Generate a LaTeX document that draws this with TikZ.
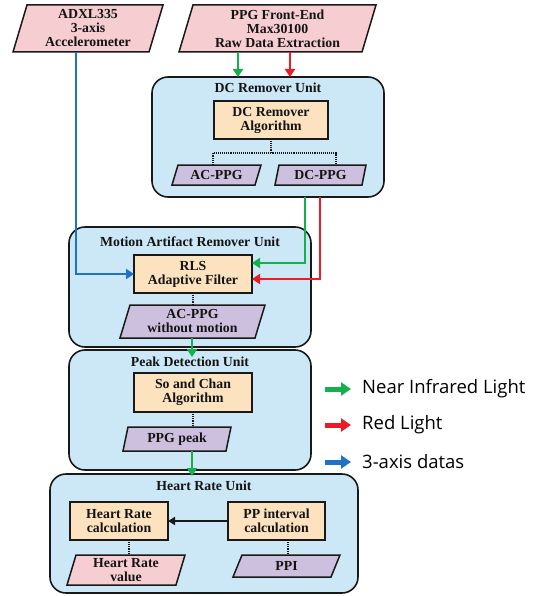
\documentclass[tikz,border=0pt]{standalone}
\usepackage{fontspec}
\setmainfont{Liberation Serif}
\newfontfamily\legfont{Open Sans}
\usetikzlibrary{arrows.meta}
\definecolor{unitfill}{RGB}{204,232,246}
\definecolor{algfill}{RGB}{252,226,190}
\definecolor{pinkfill}{RGB}{246,205,208}
\definecolor{purfill}{RGB}{205,192,222}
\definecolor{bordercol}{RGB}{25,25,25}
\definecolor{gline}{RGB}{20,176,76}
\definecolor{rline}{RGB}{237,28,36}
\definecolor{bline}{RGB}{30,115,200}
\pgfdeclarelayer{units}
\pgfdeclarelayer{paras}
\pgfsetlayers{units,paras,main}
\newcommand\parashape[3]{%
  \begin{pgfonlayer}{paras}
  \path[draw=bordercol, line width=1.5pt, fill=#3]
    ([xshift=#2pt]#1.north west) -- ([xshift=#2pt]#1.north east) --
    ([xshift=-#2pt]#1.south east) -- ([xshift=-#2pt]#1.south west) -- cycle;
  \end{pgfonlayer}}
\tikzset{
  txt/.style={font=\bfseries\fontsize{13.8}{14}\selectfont, align=center, text=black!92},
  unit/.style={draw=bordercol, line width=1.6pt, fill=unitfill, rounded corners=16pt, inner sep=0pt, outer sep=0pt},
  title/.style={txt, inner sep=0pt},
  alg/.style={txt, draw=bordercol, line width=1.6pt, fill=algfill, inner sep=0pt, outer sep=0pt},
  para/.style={txt, inner sep=0pt, outer sep=0pt},
  conn/.style={line width=2.8pt, -{Triangle[width=10pt,length=8pt]}},
  dots/.style={densely dotted, line width=1.1pt, draw=bordercol},
  legarrow/.style={line width=5pt, -{Triangle[width=13pt,length=10pt]}},
  legtxt/.style={font=\legfont\fontsize{18.5}{20}\selectfont, anchor=west, inner sep=0pt},
}
\begin{document}
\begin{tikzpicture}[x=1pt,y=-1pt]
\useasboundingbox (0,0) rectangle (541,596);
% units
\begin{pgfonlayer}{units}
\node[unit, minimum width=232pt, minimum height=120pt] (dcu) at (268,137) {};
\node[unit, minimum width=242pt, minimum height=120pt] (mau) at (190,287) {};
\node[unit, minimum width=242pt, minimum height=120pt] (pdu) at (190,410) {};
\node[unit, minimum width=308pt, minimum height=119pt] (hru) at (204,533.5) {};
\end{pgfonlayer}
\node[title] (dcut) at (268,88) {DC Remover Unit};
\node[title] (maut) at (190,242) {Motion Artifact Remover Unit};
\node[title] (pdut) at (190,362) {Peak Detection Unit};
\node[title] (hrut) at (204,486) {Heart Rate Unit};
% top inputs
\node[para, minimum width=136pt, minimum height=47pt] (adxl) at (88,28.5) {ADXL335\\3-axis\\Accelerometer};
\parashape{adxl}{7}{pinkfill}
\node[para, minimum width=183pt, minimum height=47pt] (ppg) at (277.5,28.5) {PPG Front-End\\Max30100\\Raw Data Extraction};
\parashape{ppg}{7}{pinkfill}
% DC remover
\node[alg, minimum width=114pt, minimum height=38pt] (dca) at (271,120) {DC Remover\\Algorithm};
\node[para, minimum width=83pt, minimum height=20pt] (acp) at (216.5,175) {AC-PPG};
\parashape{acp}{3}{purfill}
\node[para, minimum width=87pt, minimum height=20pt] (dcp) at (320.5,175) {DC-PPG};
\parashape{dcp}{2}{purfill}
% motion artifact
\node[alg, minimum width=118pt, minimum height=38pt] (rls) at (193,274) {RLS\\Adaptive Filter};
\node[para, minimum width=135pt, minimum height=33pt] (amp) at (192.5,321.5) {AC-PPG\\without motion};
\parashape{amp}{5}{purfill}
% peak detection
\node[alg, minimum width=118pt, minimum height=39pt] (sca) at (193,392.5) {So and Chan\\Algorithm};
\node[para, minimum width=103pt, minimum height=24pt] (pk) at (177,439) {PPG peak};
\parashape{pk}{2.5}{purfill}
% heart rate
\node[alg, minimum width=98pt, minimum height=38pt] (hrc) at (119,521) {Heart Rate\\calculation};
\node[alg, minimum width=97pt, minimum height=38pt] (ppc) at (276.5,521) {PP interval\\calculation};
\node[para, minimum width=109pt, minimum height=30pt] (hrv) at (126,570) {Heart Rate\\value};
\parashape{hrv}{4.5}{pinkfill}
\node[para, minimum width=98pt, minimum height=22pt] (ppi) at (286.5,566) {PPI};
\parashape{ppi}{4.5}{purfill}
% dotted links
\coordinate (dl) at (213,153);
\coordinate (dr) at (336,153);
\draw[dots] (dca.south) -- (dca.south |- dl);
\draw[dots] (acp.north -| dl) -- (dl) -- (dr) -- (dcp.north -| dr);
\draw[dots] (rls.south) -- (rls.south |- amp.north);
\draw[dots] (sca.south) -- (sca.south |- pk.north);
\coordinate (hd) at (129,540);
\draw[dots] (hrc.south -| hd) -- (hrv.north -| hd);
\coordinate (pd) at (288,540);
\draw[dots] (ppc.south -| pd) -- (ppi.north -| pd);
% connectors
\coordinate (g1) at (238,0);
\coordinate (r1) at (290,0);
\draw[conn, gline] (ppg.south -| g1) -- (dcu.north -| g1);
\draw[conn, rline] (ppg.south -| r1) -- (dcu.north -| r1);
\coordinate (g2) at (305,263);
\coordinate (r2) at (320,279);
\draw[conn, gline] (dcu.south -| g2) -- (g2) -- (g2 -| rls.east);
\draw[conn, rline] (dcu.south -| r2) -- (r2) -- (r2 -| rls.east);
\coordinate (b1) at (76,274);
\draw[conn, bline] (adxl.south -| b1) -- (b1) -- (rls.west);
\coordinate (g3) at (192,357);
\draw[conn, gline] (amp.south -| g3) -- (g3);
\coordinate (g4) at (192,476);
\draw[conn, gline] (pk.south -| g4) -- (g4);
\draw[line width=1.6pt, draw=bordercol, -{Triangle[width=8pt,length=7pt]}] (ppc.west) -- (hrc.east);
% legend
\coordinate (la1) at (325,389); \coordinate (lb1) at (351,389);
\coordinate (la2) at (325,425); \coordinate (lb2) at (351,425);
\coordinate (la3) at (325,462); \coordinate (lb3) at (351,462);
\draw[legarrow, gline] (la1) -- (lb1);
\draw[legarrow, rline] (la2) -- (lb2);
\draw[legarrow, bline] (la3) -- (lb3);
\node[legtxt] (l1) at (362,389) {Near Infrared Light};
\node[legtxt] (l2) at (362,425) {Red Light};
\node[legtxt] (l3) at (362,462) {3-axis datas};
\end{tikzpicture}
\end{document}
